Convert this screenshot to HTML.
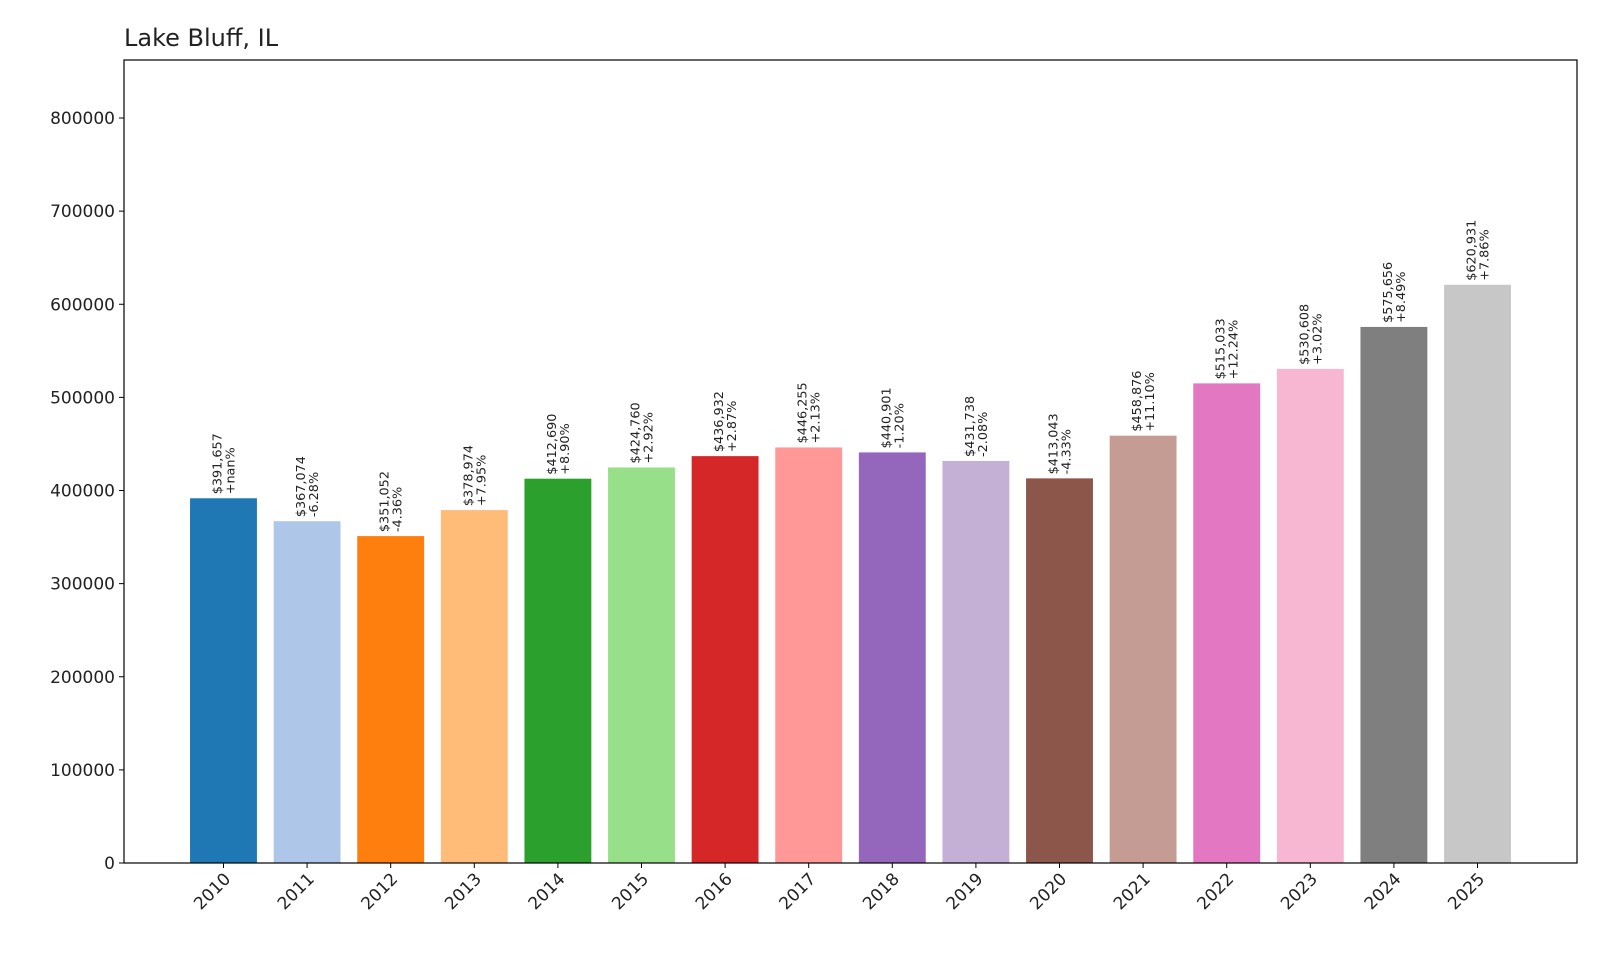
<!DOCTYPE html>
<html><head><meta charset="utf-8"><style>
body{margin:0;background:#fff;}
svg{display:block;font-family:"DejaVu Sans","Liberation Sans",sans-serif;}
</style></head><body>
<svg id="chart" width="1600" height="960">
<text x="124" y="46" font-size="24" fill="#222">Lake Bluff, IL</text>
<g id="bars"></g>
<g id="yaxis"></g>
<g id="xaxis"></g>
<rect x="124" y="60" width="1453" height="803" fill="none" stroke="#000" stroke-width="1.2"/>
</svg>
<script>
const years=["2010","2011","2012","2013","2014","2015","2016","2017","2018","2019","2020","2021","2022","2023","2024","2025"];
const values=[391657,367074,351052,378974,412690,424760,436932,446255,440901,431738,413043,458876,515033,530608,575656,620931];
const pctLabels=["+nan%","-6.28%","-4.36%","+7.95%","+8.90%","+2.92%","+2.87%","+2.13%","-1.20%","-2.08%","-4.33%","+11.10%","+12.24%","+3.02%","+8.49%","+7.86%"];
const yTicks=[0,100000,200000,300000,400000,500000,600000,700000,800000];
const colors=["#1f77b4","#aec7e8","#ff7f0e","#ffbb78","#2ca02c","#98df8a","#d62728","#ff9896","#9467bd","#c5b0d5","#8c564b","#c49c94","#e377c2","#f7b6d2","#7f7f7f","#c7c7c7"];
const NS="http://www.w3.org/2000/svg";
const L=124,R=1577,T=60,B=863;
const yMax=862300, xMin=-1.19, xMax=16.19;
const y=v=>B-(v/yMax)*(B-T);
const x=i=>L+(i-xMin)/(xMax-xMin)*(R-L);
const bw=0.8*(R-L)/(xMax-xMin);
const fmt=v=>"$"+v.toLocaleString("en-US");
const bars=document.getElementById("bars"),ya=document.getElementById("yaxis"),xa=document.getElementById("xaxis");
function mk(tag,attrs,parent){const e=document.createElementNS(NS,tag);for(const k in attrs)e.setAttribute(k,attrs[k]);parent.appendChild(e);return e;}
values.forEach((v,i)=>{
  const r=mk("rect",{x:x(i)-bw/2,y:y(v),width:bw,height:B-y(v),fill:colors[i]},bars);
  
  
  const t=mk("text",{transform:`translate(${x(i)},${y(v)-4}) rotate(-90)`,"font-size":"12.8",fill:"#222"},bars);
  
  
  const s1=mk("tspan",{x:0,y:-2},t);s1.textContent=fmt(v);
  const s2=mk("tspan",{x:0,y:11},t);s2.textContent=pctLabels[i];
  mk("line",{x1:x(i),x2:x(i),y1:B,y2:B+5,stroke:"#000"},xa);
  const xl=mk("text",{transform:`translate(${x(i)+8},${B+17}) rotate(-45)`,"text-anchor":"end","font-size":"17",fill:"#222"},xa);
  
  
  xl.textContent=years[i];
});
yTicks.forEach(v=>{
  mk("line",{x1:L-5,x2:L,y1:y(v),y2:y(v),stroke:"#000"},ya);
  const t=mk("text",{x:L-9,y:y(v)+6,"text-anchor":"end","font-size":"17",fill:"#222"},ya);
  
  
  t.textContent=v;
});
</script>
</body></html>
